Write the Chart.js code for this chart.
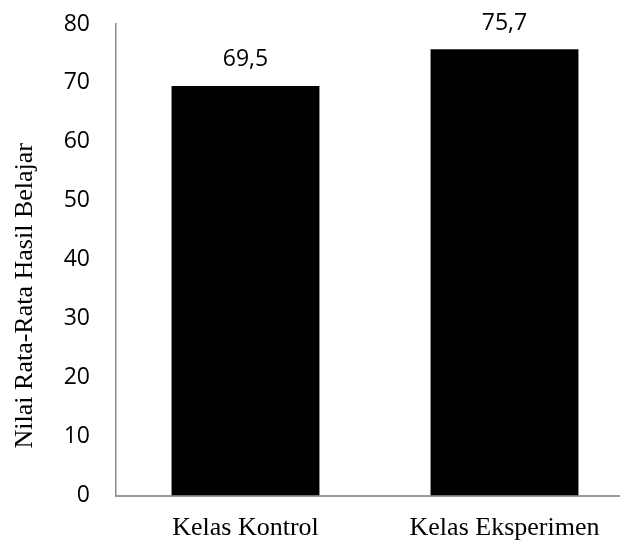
<!DOCTYPE html>
<html>
<head>
<meta charset="utf-8">
<script src="https://cdn.jsdelivr.net/npm/chart.js@4"></script>
<style>
  html, body { margin: 0; padding: 0; background: #fff; overflow: hidden; }
  #wrap { position: relative; width: 634px; height: 541px; }
</style>
</head>
<body>
<div id="wrap"><canvas id="c" width="634" height="541"></canvas></div>
<script>
// Mean learning outcome per class
const categories = ['Kelas Kontrol', 'Kelas Eksperimen'];
const meanScores = [69.5, 75.7];
const yTicks = [0, 10, 20, 30, 40, 50, 60, 70, 80];
const yTitle = 'Nilai Rata-Rata Hasil Belajar';

const serif = "'Liberation Serif', 'Times New Roman', serif";
const sans = "'Open Sans', 'Noto Sans', sans-serif";

// Decimal comma, as used in Indonesian
const fmt = v => String(v).replace('.', ',');

// Value labels above each bar
const valueLabels = {
  id: 'valueLabels',
  afterDatasetsDraw(chart) {
    const ctx = chart.ctx;
    const meta = chart.getDatasetMeta(0);
    ctx.save();
    ctx.font = '23px ' + sans;
    ctx.fillStyle = '#000';
    ctx.textAlign = 'center';
    ctx.textBaseline = 'middle';
    meta.data.forEach((bar, i) => {
      ctx.fillText(fmt(meanScores[i]), bar.x, bar.y - 26);
    });
    ctx.restore();
  }
};

// Rotated y-axis title, set a little below the axis midpoint
const yAxisTitle = {
  id: 'yAxisTitle',
  afterDraw(chart) {
    const y = chart.scales.y;
    const ctx = chart.ctx;
    ctx.save();
    ctx.translate(25, (y.top + y.bottom) / 2 + 36);
    ctx.rotate(-Math.PI / 2);
    ctx.font = '26px ' + serif;
    ctx.fillStyle = '#000';
    ctx.textAlign = 'center';
    ctx.textBaseline = 'middle';
    ctx.fillText(yTitle, 0, 0);
    ctx.restore();
  }
};

new Chart(document.getElementById('c'), {
  type: 'bar',
  data: {
    labels: categories,
    datasets: [{
      data: meanScores,
      backgroundColor: '#000',
      borderWidth: 0,
      barPercentage: 0.571,
      categoryPercentage: 1
    }]
  },
  options: {
    responsive: false,
    animation: false,
    layout: { padding: { top: 24, right: 0, left: 0, bottom: 0 } },
    plugins: {
      legend: { display: false },
      tooltip: { enabled: false }
    },
    scales: {
      x: {
        grid: { display: false, drawTicks: false },
        border: { display: true, color: '#9a9a9a', width: 2 },
        ticks: {
          color: '#000',
          font: { family: serif, size: 26 },
          padding: 17,
          maxRotation: 0
        },
        afterFit(scale) {
          scale.height = 45.5;
          scale.paddingLeft = 0;
          scale.paddingRight = 0;
        }
      },
      y: {
        min: 0,
        max: 80,
        afterBuildTicks(scale) { scale.ticks = yTicks.map(v => ({ value: v })); },
        grid: { display: false, drawTicks: false },
        border: { display: true, color: '#8c8c8c', width: 1.5 },
        ticks: {
          color: '#000',
          font: { family: sans, size: 23 },
          padding: 26
        },
        afterFit(scale) {
          scale.width = 116;
          scale.paddingTop = 0;
          scale.paddingBottom = 0;
        }
      }
    }
  },
  plugins: [valueLabels, yAxisTitle]
});
</script>
</body>
</html>
